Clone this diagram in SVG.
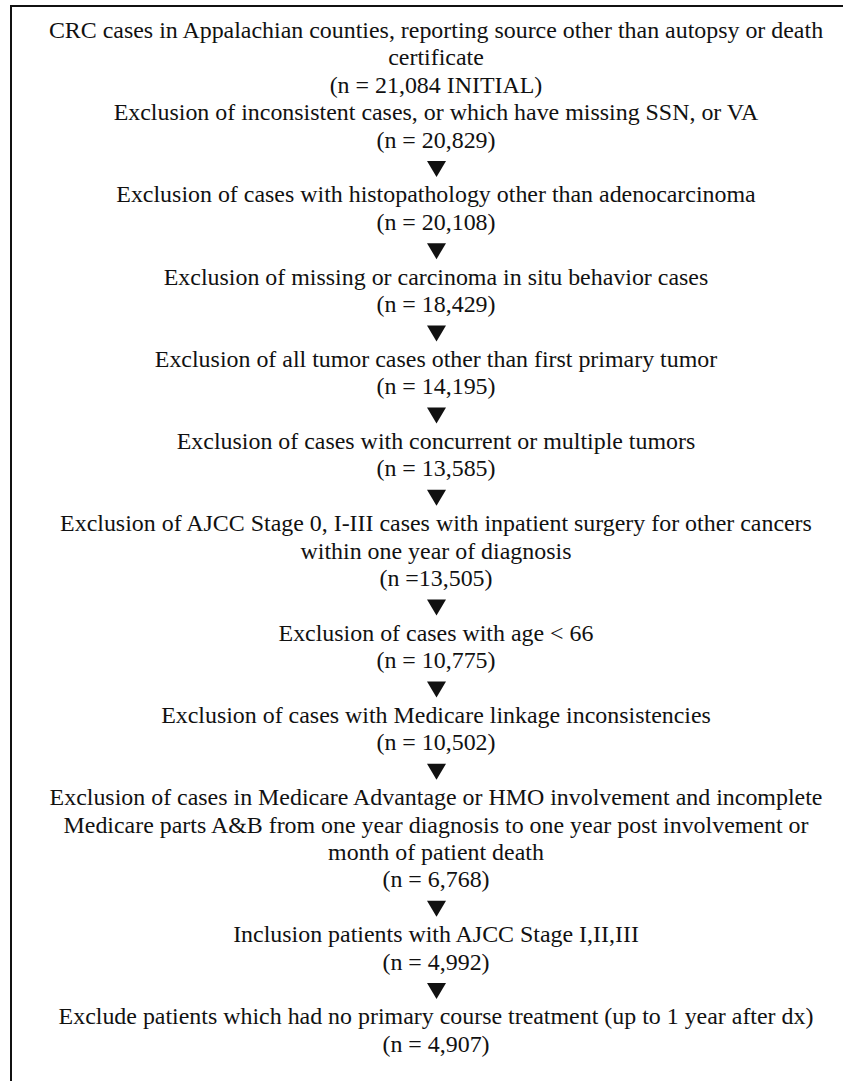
<svg xmlns="http://www.w3.org/2000/svg" width="843" height="1081" viewBox="0 0 843 1081">
<style>
.t text{font-family:'Liberation Serif','Times New Roman',Times,serif;font-size:23px;fill:#111;text-anchor:middle}
.arr{fill:#111}
</style>
<rect width="843" height="1081" fill="#fff"/>
<path d="M11,1081 V6 H843" fill="none" stroke="#111" stroke-width="2"/>
<g class="t" transform="translate(436,1) scale(1.04,1) translate(-436,0)">
<g id="n1"><text x="436" y="37">CRC cases in Appalachian counties, reporting source other than autopsy or death</text><text x="436" y="64.4">certificate</text><text x="436" y="91.8">(n = 21,084 INITIAL)</text></g>
<g id="n2"><text x="436" y="119.2">Exclusion of inconsistent cases, or which have missing SSN, or VA</text><text x="436" y="146.6">(n = 20,829)</text></g>
<g id="n3"><text x="436" y="201.4">Exclusion of cases with histopathology other than adenocarcinoma</text><text x="436" y="228.8">(n = 20,108)</text></g>
<g id="n4"><text x="436" y="283.6">Exclusion of missing or carcinoma in situ behavior cases</text><text x="436" y="311">(n = 18,429)</text></g>
<g id="n5"><text x="436" y="365.8">Exclusion of all tumor cases other than first primary tumor</text><text x="436" y="393.2">(n = 14,195)</text></g>
<g id="n6"><text x="436" y="448">Exclusion of cases with concurrent or multiple tumors</text><text x="436" y="475.4">(n = 13,585)</text></g>
<g id="n7"><text x="436" y="530.2">Exclusion of AJCC Stage 0, I-III cases with inpatient surgery for other cancers</text><text x="436" y="557.6">within one year of diagnosis</text><text x="436" y="585">(n =13,505)</text></g>
<g id="n8"><text x="436" y="639.8">Exclusion of cases with age &lt; 66</text><text x="436" y="667.2">(n = 10,775)</text></g>
<g id="n9"><text x="436" y="722">Exclusion of cases with Medicare linkage inconsistencies</text><text x="436" y="749.4">(n = 10,502)</text></g>
<g id="n10"><text x="436" y="804.2">Exclusion of cases in Medicare Advantage or HMO involvement and incomplete</text><text x="436" y="831.6">Medicare parts A&amp;B from one year diagnosis to one year post involvement or</text><text x="436" y="859">month of patient death</text><text x="436" y="886.4">(n = 6,768)</text></g>
<g id="n11"><text x="436" y="941.2">Inclusion patients with AJCC Stage I,II,III</text><text x="436" y="968.6">(n = 4,992)</text></g>
<g id="n12"><text x="436" y="1023.4">Exclude patients which had no primary course treatment (up to 1 year after dx)</text><text x="436" y="1050.8">(n = 4,907)</text></g>
</g>
<g id="connectors" class="arr">
<polygon points="427,161 446,161 436.5,177"/>
<polygon points="427,243.2 446,243.2 436.5,259.2"/>
<polygon points="427,325.4 446,325.4 436.5,341.4"/>
<polygon points="427,407.6 446,407.6 436.5,423.6"/>
<polygon points="427,489.8 446,489.8 436.5,505.8"/>
<polygon points="427,599.4 446,599.4 436.5,615.4"/>
<polygon points="427,681.6 446,681.6 436.5,697.6"/>
<polygon points="427,763.8 446,763.8 436.5,779.8"/>
<polygon points="427,900.8 446,900.8 436.5,916.8"/>
<polygon points="427,983 446,983 436.5,999"/>
</g>
</svg>
